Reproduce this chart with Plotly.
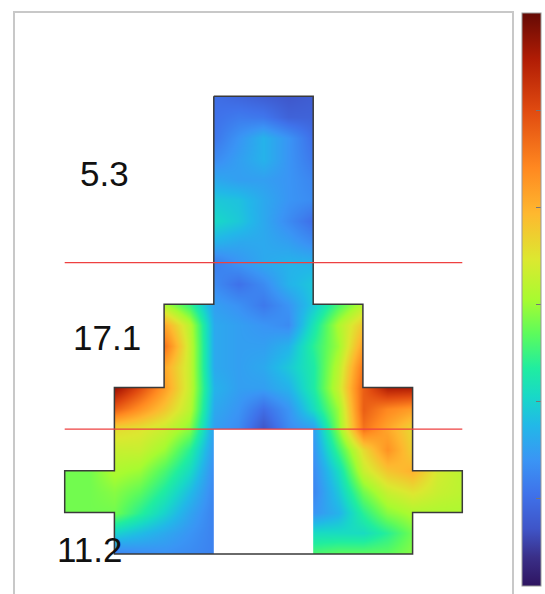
import plotly.graph_objects as go

N = None
x_nodes = [0, .5, 1, 1.5, 2, 2.5, 3, 3.5, 4, 4.5, 5, 5.5, 6, 6.5, 7, 7.5, 8]
y_nodes = [0, .5, 1, 1.5, 2, 2.5, 3, 3.5, 4, 4.5, 5, 5.5, 6, 6.5, 7, 7.5, 8, 8.5, 9, 9.5, 10, 10.5, 11]
field = [
    [N, N, N, N, N, N, 5.0, 4.5, 4.0, 3.6, 4.0, N, N, N, N, N, N],
    [N, N, N, N, N, N, 5.2, 5.7, 5.5, 4.3, 4.3, N, N, N, N, N, N],
    [N, N, N, N, N, N, 5.5, 7.0, 8.5, 7.0, 5.0, N, N, N, N, N, N],
    [N, N, N, N, N, N, 6.5, 7.5, 8.5, 7.0, 5.5, N, N, N, N, N, N],
    [N, N, N, N, N, N, 8.0, 7.5, 7.5, 7.0, 6.2, N, N, N, N, N, N],
    [N, N, N, N, N, N, 9.5, 9.2, 8.0, 7.0, 6.5, N, N, N, N, N, N],
    [N, N, N, N, N, N, 10.3, 9.5, 8.0, 6.5, 5.0, N, N, N, N, N, N],
    [N, N, N, N, N, N, 8.5, 8.0, 8.0, 7.5, 6.5, N, N, N, N, N, N],
    [N, N, N, N, N, N, 5.8, 7.0, 8.0, 8.5, 8.5, N, N, N, N, N, N],
    [N, N, N, N, N, N, 6.5, 5.2, 6.5, 8.5, 9.5, N, N, N, N, N, N],
    [N, N, N, N, 15.5, 12.5, 7.5, 6.8, 5.6, 7.0, 9.5, 13., 16., N, N, N, N],
    [N, N, N, N, 20.5, 16., 8.0, 7.5, 7.0, 6.5, 11., 15.5, 19., N, N, N, N],
    [N, N, N, N, 23., 16.5, 8.0, 7.5, 7.5, 8.5, 12., 15., 21., N, N, N, N],
    [N, N, N, N, 20.5, 16.5, 8.0, 7.5, 8.0, 9.5, 11.5, 16., 23., N, N, N, N],
    [N, N, 28.5, 25., 21., 16.5, 8.5, 7.5, 7.5, 8.5, 11.5, 16.5, 24., 27.5, 27.5, N, N],
    [N, N, 24., 21.5, 19., 16., 8.0, 7.0, 5.0, 7.0, 10.5, 15., 24., 22., 21., N, N],
    [N, N, 18., 17.5, 16.5, 14.5, 7.5, 6.5, 3.5, 6.5, 7.5, 14.5, 23., 20.5, 18., N, N],
    [N, N, 16.5, 16.5, 15., 12., 7.0, N, N, N, 7.0, 12.5, 18., 21.5, 18.5, N, N],
    [14., 14., 15.5, 15., 13., 10.5, 6.5, N, N, N, 6.5, 10.5, 16.5, 19., 20., 17., 16.],
    [14., 14., 14.5, 13.5, 11.5, 9., 6.2, N, N, N, 6.2, 9.5, 14., 16.5, 17.5, 16.5, 16.],
    [14., 14., 14., 12., 10., 7.8, 6.0, N, N, N, 7.0, 8.5, 12., 14.5, 15.5, 15.5, 15.5],
    [N, N, 10., 9., 8., 7., 6.0, N, N, N, 10.5, 10.5, 10.5, 12., 14., N, N],
    [N, N, 6.0, 6.5, 6.8, 6.5, 6.0, N, N, N, 13., 13.5, 13.5, 13.5, 14.5, N, N],
]
outline_x = [3, 5, 5, 6, 6, 7, 7, 8, 8, 7, 7, 1, 1, 0, 0, 1, 1, 2, 2, 3, 3]
outline_y = [0, 0, 5, 5, 7, 7, 9, 9, 10, 10, 11, 11, 10, 10, 9, 9, 7, 7, 5, 5, 0]
hole_x = [3, 5, 5, 3, 3]
hole_y = [8, 8, 11, 11, 8]
x_range = [-1.0, 9.0]
y_range = [11.96, -2.0]
mask_x = [3] + [x_range[0], x_range[0], x_range[1], x_range[1], 3] + outline_x + [None] + hole_x
mask_y = [y_range[1]] + [y_range[1], y_range[0], y_range[0], y_range[1], y_range[1]] + outline_y + [None] + hole_y
cut_levels = [4, 8]
cut_span = [0, 8]
labels = [("5.3", 0.8, 1.85), ("17.1", 0.85, 5.8), ("11.2", 0.5, 10.88)]
ticks = [5, 10, 15, 20, 25]
scale = [
    [0.00, "#2e1460"], [0.05, "#3a2f88"], [0.10, "#3f55c8"], [0.16, "#3f72ea"],
    [0.22, "#3a95f5"], [0.28, "#22b8e8"], [0.33, "#18d8c8"], [0.38, "#20eda0"],
    [0.44, "#5cfb5c"], [0.50, "#a8fb30"], [0.57, "#dce830"], [0.65, "#feb82f"],
    [0.73, "#ff8820"], [0.83, "#e04a10"], [0.92, "#b01c05"], [1.00, "#650a05"],
]

fig = go.Figure()
fig.add_trace(go.Heatmap(
    x=x_nodes, y=y_nodes, z=field, zsmooth="best", connectgaps=True,
    zmin=0.5, zmax=30, colorscale=scale, hoverinfo="skip",
    colorbar=dict(
        xref="container", x=522 / 545, xanchor="left", xpad=0,
        yref="paper", y=1, yanchor="top", ypad=0,
        thickness=19, thicknessmode="pixels", len=573, lenmode="pixels",
        outlinecolor="#999999", outlinewidth=1,
        tickmode="array", tickvals=ticks, ticks="inside", ticklen=5,
        tickcolor="#777777", showticklabels=False, title=dict(text=""),
    ),
))
fig.add_trace(go.Scatter(x=mask_x, y=mask_y, mode="none", fill="toself",
                         fillcolor="white", hoverinfo="skip", showlegend=False))
fig.add_trace(go.Scatter(x=outline_x, y=outline_y, mode="lines",
                         line=dict(color="#3a3a3a", width=1.5), hoverinfo="skip", showlegend=False))
for level in cut_levels:
    fig.add_trace(go.Scatter(x=cut_span, y=[level, level], mode="lines",
                             line=dict(color="#ee4040", width=1.3), hoverinfo="skip", showlegend=False))
for text, x, y in labels:
    fig.add_annotation(x=x, y=y, text=text, showarrow=False,
                       font=dict(family="Liberation Sans", size=35, color="#111111"))
axis = dict(showgrid=False, zeroline=False, showticklabels=False, ticks="",
            showline=True, mirror=True, linecolor="#c8c8c8", linewidth=2)
fig.update_xaxes(range=x_range, **axis)
fig.update_yaxes(range=y_range, **axis)
fig.update_layout(width=545, height=594, margin=dict(l=15, r=33, t=13, b=0),
                  paper_bgcolor="white", plot_bgcolor="white", showlegend=False)
fig.write_html("out.html", config={"displayModeBar": False},
               post_script="document.body.style.margin='0';")
